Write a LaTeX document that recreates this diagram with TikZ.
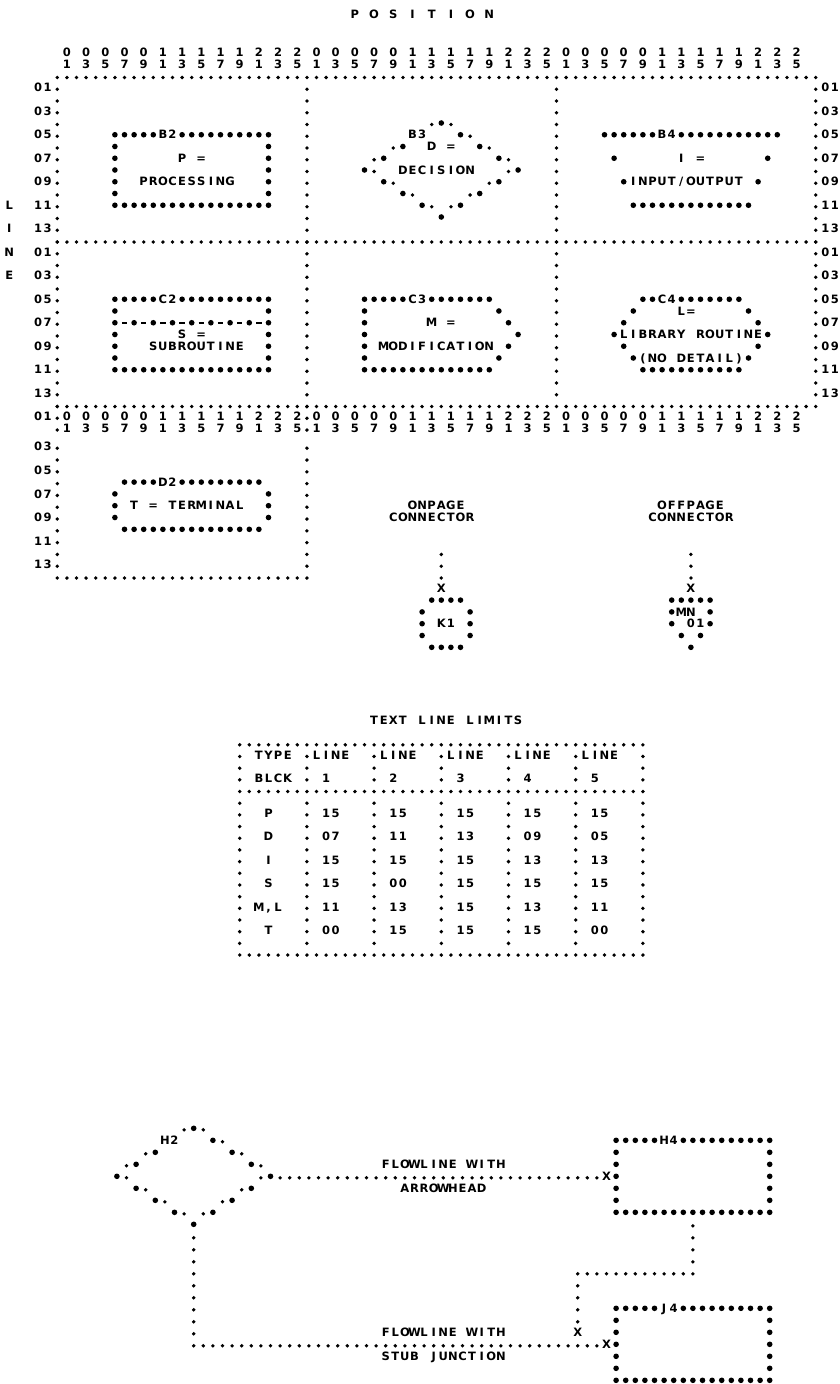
\documentclass[tikz,border=0pt]{standalone}
\usepackage{fontspec}
\setmainfont{DejaVu Sans}
\ExplSyntaxOn
\NewDocumentCommand\lp{m}{\str_map_inline:nn{#1}{\makebox[9.6pt][c]{##1}}}
\ExplSyntaxOff
\newcommand\lc[1]{\makebox[9.6pt][c]{#1}}
\newcommand\prf{\bfseries\fontsize{11.5pt}{12pt}\selectfont}
\newcounter{nn}
\tikzset{txt/.style={anchor=base west,inner sep=0pt,outer sep=0pt,yshift=-4.2pt,font=\prf}}
\newcommand\tx[3]{\stepcounter{nn}\node[txt] (n\arabic{nn}) at ({#1-0.5},{#2}) {\lp{#3}};}
\newcommand\sD[2]{\fill[yshift=-1.5pt] ({#1},{#2}) circle[radius=1.9pt];}
\newcommand\bD[2]{\fill ({#1},{#2}) circle[radius=2.8pt];}
\newcommand\sH[3]{\foreach \ii in {#1,...,#2}{\sD{\ii}{#3}}}
\newcommand\sV[3]{\foreach \jj in {#2,...,#3}{\sD{#1}{\jj}}}
\newcommand\bH[3]{\foreach \ii in {#1,...,#2}{\bD{\ii}{#3}}}
\newcommand\bV[3]{\foreach \jj in {#2,...,#3}{\bD{#1}{\jj}}}
% diamond: centre column #1, top row #2, label #3
\newcommand\dmd[3]{%
 \sD{#1-1}{#2}\bD{#1}{#2}\sD{#1+1}{#2}
 \bD{#1+2}{#2+1}\sD{#1+3}{#2+1}
 \sD{#1-5}{#2+2}\bD{#1-4}{#2+2}\bD{#1+4}{#2+2}\sD{#1+5}{#2+2}
 \sD{#1-7}{#2+3}\bD{#1-6}{#2+3}\bD{#1+6}{#2+3}\sD{#1+7}{#2+3}
 \bD{#1-8}{#2+4}\sD{#1-7}{#2+4}\sD{#1+7}{#2+4}\bD{#1+8}{#2+4}
 \bD{#1-6}{#2+5}\sD{#1-5}{#2+5}\sD{#1+5}{#2+5}\bD{#1+6}{#2+5}
 \bD{#1-4}{#2+6}\sD{#1-3}{#2+6}\sD{#1+3}{#2+6}\bD{#1+4}{#2+6}
 \bD{#1-2}{#2+7}\sD{#1-1}{#2+7}\sD{#1+1}{#2+7}\bD{#1+2}{#2+7}
 \bD{#1}{#2+8}
 \tx{#1-3}{#2+1}{#3}}
\begin{document}
\begin{tikzpicture}[x=1pt,y=-1pt]
\useasboundingbox (0,0) rectangle (840,1384);
\fill[white] (0,0) rectangle (840,1384);
\node[txt] (title) at ({57.3+9.6*30.5},14) {\lp{P O S I T I O N}};
\node[txt] (tll) at ({57.3+9.6*32.5},720) {\lp{TEXT LINE LIMITS}};
% ---------------- upper grid ----------------
\begin{scope}[shift={(57.3,76)},x=9.6pt,y=-11.75pt]
 \sH{0}{79}{0}\sH{0}{79}{14}\sH{0}{79}{28}
 \sV{0}{1}{30}\sV{26}{1}{30}\sV{52}{1}{27}\sV{79}{1}{27}
 \foreach \k in {0,26,52}{\foreach \p in {1,3,...,25}{
  \pgfmathtruncatemacro\tn{\p/10}\pgfmathtruncatemacro\un{mod(\p,10)}
  \pgfmathtruncatemacro\cc{\k+\p}
  \node[txt] (ht\cc) at ({\cc-0.5},-2) {\lc{\tn}};
  \node[txt] (hu\cc) at ({\cc-0.5},-1) {\lc{\un}};
  \node[txt] (dt\cc) at ({\cc-0.5},29) {\lc{\tn}};
  \node[txt] (du\cc) at ({\cc-0.5},30) {\lc{\un}};
 }}
 \foreach \n in {1,3,...,13}{
  \pgfmathtruncatemacro\tn{\n/10}\pgfmathtruncatemacro\un{mod(\n,10)}
  \pgfmathtruncatemacro\rb{\n+14}
  \node[txt] (la\n) at (-2.5,\n) {\lc{\tn}\lc{\un}};
  \node[txt] (lb\n) at (-2.5,\rb) {\lc{\tn}\lc{\un}};
  \node[txt] (ra\n) at (79.5,\n) {\lc{\tn}\lc{\un}};
  \node[txt] (rb\n) at (79.5,\rb) {\lc{\tn}\lc{\un}};
 }
 \node[txt] (lc1) at (-2.5,29) {\lc{0}\lc{1}};
 \tx{-5}{11}{L}\tx{-5}{13}{I}\tx{-5}{15}{N}\tx{-5}{17}{E}
 % B2 processing
 \bH{6}{10}{5}\tx{11}{5}{B2}\bH{13}{22}{5}
 \bV{6}{6}{10}\bV{22}{6}{10}\bH{6}{22}{11}
 \tx{13}{7}{P =}\tx{9}{9}{PROCESSING}
 % B3 decision
 \dmd{40}{4}{B3}
 \tx{39}{6}{D =}\tx{36}{8}{DECISION}
 % B4 input/output
 \bH{57}{62}{5}\tx{63}{5}{B4}\bH{65}{75}{5}
 \bD{58}{7}\bD{74}{7}\tx{65}{7}{I =}
 \bD{59}{9}\bD{73}{9}\tx{60}{9}{INPUT/OUTPUT}
 \bH{60}{72}{11}
 % C2 subroutine
 \bH{6}{10}{19}\tx{11}{19}{C2}\bH{13}{22}{19}
 \bV{6}{20}{24}\bV{22}{20}{24}\bH{6}{22}{25}
 \foreach \k in {8,10,...,20}{\bD{\k}{21}}
 \foreach \k in {7,9,...,21}{\draw[line width=1.6pt] ({\k-0.28},21) -- ({\k+0.28},21);}
 \tx{13}{22}{S =}\tx{10}{23}{SUBROUTINE}
 % C3 modification
 \bH{32}{36}{19}\tx{37}{19}{C3}\bH{39}{45}{19}
 \bV{32}{20}{24}\bH{32}{45}{25}
 \bD{46}{20}\bD{47}{21}\bD{48}{22}\bD{47}{23}\bD{46}{24}
 \tx{39}{21}{M =}\tx{34}{23}{MODIFICATION}
 % C4 library routine
 \bH{61}{62}{19}\tx{63}{19}{C4}\bH{65}{71}{19}
 \bD{60}{20}\bD{72}{20}\tx{65}{20}{L=}
 \bD{59}{21}\bD{73}{21}
 \bD{58}{22}\bD{74}{22}\tx{59}{22}{LIBRARY ROUTINE}
 \bD{59}{23}\bD{73}{23}
 \bD{60}{24}\bD{72}{24}\tx{61}{24}{(NO DETAIL)}
 \bH{61}{71}{25}
\end{scope}
% ---------------- lower panel and connectors ----------------
\begin{scope}[shift={(57.3,80.9)},x=9.6pt,y=-11.8pt]
 \sV{0}{31}{41}\sV{26}{31}{41}\sH{0}{26}{42}
 \foreach \n in {3,5,...,13}{
  \pgfmathtruncatemacro\tn{\n/10}\pgfmathtruncatemacro\un{mod(\n,10)}
  \pgfmathtruncatemacro\rr{\n+28}
  \node[txt] (ld\n) at (-2.5,\rr) {\lc{\tn}\lc{\un}};
 }
 % D2 terminal
 \bH{7}{10}{34}\tx{11}{34}{D2}\bH{13}{21}{34}
 \bV{6}{35}{37}\bV{22}{35}{37}\bH{7}{21}{38}
 \tx{8}{36}{T = TERMINAL}
 % onpage connector
 \tx{37}{36}{ONPAGE}\tx{35}{37}{CONNECTOR}
 \sV{40}{40}{42}\tx{40}{43}{X}
 \bH{39}{42}{44}\bV{38}{45}{47}\bV{43}{45}{47}\tx{40}{46}{K1}\bH{39}{42}{48}
 % offpage connector
 \tx{63}{36}{OFFPAGE}\tx{62}{37}{CONNECTOR}
 \sV{66}{40}{42}\tx{66}{43}{X}
 \bH{64}{68}{44}
 \bD{64}{45}\tx{65}{45}{MN}\bD{68}{45}
 \bD{64}{46}\tx{66}{46}{01}\bD{68}{46}
 \bD{65}{47}\bD{67}{47}\bD{66}{48}
\end{scope}
% ---------------- table ----------------
\begin{scope}[shift={(57.3,743.3)},x=9.6pt,y=-11.68pt]
 \sH{19}{61}{0}\sH{19}{61}{4}\sH{19}{61}{18}
 \foreach \k in {19,26,...,61}{\sV{\k}{1}{3}\sV{\k}{5}{17}}
 \tx{21}{1}{TYPE}\tx{27}{1}{LINE}\tx{34}{1}{LINE}\tx{41}{1}{LINE}\tx{48}{1}{LINE}\tx{55}{1}{LINE}
 \tx{21}{3}{BLCK}\tx{28}{3}{1}\tx{35}{3}{2}\tx{42}{3}{3}\tx{49}{3}{4}\tx{56}{3}{5}
 \tx{22}{6}{P}\tx{28}{6}{15}\tx{35}{6}{15}\tx{42}{6}{15}\tx{49}{6}{15}\tx{56}{6}{15}
 \tx{22}{8}{D}\tx{28}{8}{07}\tx{35}{8}{11}\tx{42}{8}{13}\tx{49}{8}{09}\tx{56}{8}{05}
 \tx{22}{10}{I}\tx{28}{10}{15}\tx{35}{10}{15}\tx{42}{10}{15}\tx{49}{10}{13}\tx{56}{10}{13}
 \tx{22}{12}{S}\tx{28}{12}{15}\tx{35}{12}{00}\tx{42}{12}{15}\tx{49}{12}{15}\tx{56}{12}{15}
 \tx{21}{14}{M,L}\tx{28}{14}{11}\tx{35}{14}{13}\tx{42}{14}{15}\tx{49}{14}{13}\tx{56}{14}{11}
 \tx{22}{16}{T}\tx{28}{16}{00}\tx{35}{16}{15}\tx{42}{16}{15}\tx{49}{16}{15}\tx{56}{16}{00}
\end{scope}
% ---------------- flowlines ----------------
\begin{scope}[shift={(59.3,1128.3)},x=9.6pt,y=-12pt]
 \dmd{14}{0}{H2}
 \sH{23}{56}{4}\tx{57}{4}{X}
 \tx{34}{3}{FLOWLINE WITH}\tx{36}{5}{ARROWHEAD}
 \bH{58}{62}{1}\tx{63}{1}{H4}\bH{65}{74}{1}
 \bV{58}{2}{6}\bV{74}{2}{6}\bH{58}{74}{7}
 \sV{66}{8}{11}\sH{54}{66}{12}\sV{54}{13}{16}\tx{54}{17}{X}
 \sV{14}{9}{17}\sH{14}{56}{18}\tx{57}{18}{X}
 \tx{34}{17}{FLOWLINE WITH}\tx{34}{19}{STUB JUNCTION}
 \bH{58}{62}{15}\tx{63}{15}{J4}\bH{65}{74}{15}
 \bV{58}{16}{20}\bV{74}{16}{20}\bH{58}{74}{21}
\end{scope}
\end{tikzpicture}
\end{document}
